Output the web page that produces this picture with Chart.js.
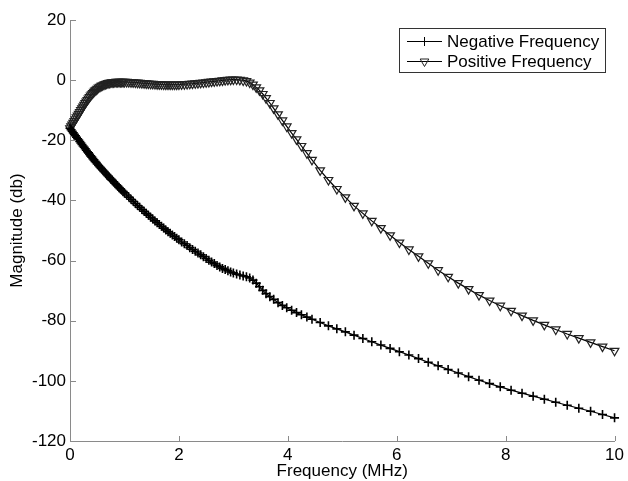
<!DOCTYPE html>
<html>
<head>
<meta charset="utf-8">
<script src="https://cdn.jsdelivr.net/npm/chart.js@4.4.0/dist/chart.umd.min.js"></script>
<style>
html, body { margin: 0; padding: 0; background: #fff; }
#wrap { width: 628px; height: 481px; }
</style>
</head>
<body>
<div id="wrap"><canvas id="magChart"></canvas></div>
<script>
// frequency samples (MHz), shared by both curves - dense at the low end
const freq = [0,0.02,0.04,0.06,0.08,0.1,0.12,0.14,0.16,0.18,
  0.2,0.22,0.24,0.26,0.28,0.3,0.32,0.34,0.36,0.38,
  0.4,0.42,0.44,0.46,0.48,0.5,
  0.525,0.55,0.575,0.6,0.625,0.65,0.675,0.7,0.725,0.75,
  0.775,0.8,0.825,0.85,0.875,0.9,0.925,0.95,0.975,1.0,
  1.04,1.08,1.12,1.16,1.2,1.24,1.28,1.32,1.36,1.4,
  1.44,1.48,1.52,1.56,1.6,1.64,1.68,1.72,1.76,1.8,
  1.84,1.88,1.92,1.96,2.0,
  2.05,2.1,2.15,2.2,2.25,2.3,2.35,2.4,2.45,2.5,
  2.55,2.6,2.65,2.7,2.75,2.8,2.85,2.9,2.95,3.0,
  3.06,3.12,3.18,3.24,3.3,3.36,3.42,3.48,3.54,3.6,
  3.67,3.74,3.82,3.9,3.98,4.07,4.16,4.25,4.35,4.444,
  4.594,4.746,4.9,5.057,5.216,5.378,5.542,5.709,5.878,6.049,
  6.223,6.4,6.579,6.76,6.944,7.131,7.32,7.511,7.705,7.901,
  8.1,8.301,8.505,8.711,8.92,9.131,9.344,9.56,9.779,10];

const negMag = [-16,-16.5,-17,-17.5,-18,-18.5,-19,-19.5,-19.9,-20.4,
  -20.9,-21.4,-21.9,-22.3,-22.8,-23.3,-23.8,-24.2,-24.7,-25.2,
  -25.6,-26.1,-26.5,-27,-27.4,-27.9,
  -28.4,-28.9,-29.4,-29.9,-30.4,-30.9,-31.4,-31.9,-32.4,-32.9,
  -33.3,-33.8,-34.3,-34.8,-35.2,-35.7,-36.1,-36.6,-37.1,-37.5,
  -38.2,-38.9,-39.6,-40.3,-41,-41.7,-42.3,-43,-43.6,-44.3,
  -44.9,-45.6,-46.2,-46.8,-47.4,-48,-48.6,-49.2,-49.8,-50.4,
  -50.9,-51.5,-52,-52.6,-53.1,
  -53.8,-54.4,-55,-55.7,-56.3,-56.9,-57.5,-58.1,-58.7,-59.3,
  -59.9,-60.5,-61,-61.6,-62.1,-62.6,-63,-63.4,-63.8,-64.1,
  -64.5,-64.8,-65.1,-65.4,-65.8,-66.5,-67.5,-68.7,-69.9,-71,
  -72,-72.9,-74,-74.9,-75.7,-76.5,-77.3,-78,-78.8,-79.5,
  -80.6,-81.7,-82.7,-83.7,-84.8,-85.9,-87,-88.1,-89.2,-90.3,
  -91.4,-92.6,-93.8,-95,-96.2,-97.4,-98.6,-99.8,-100.9,-102,
  -103.1,-104.1,-105.1,-106.1,-107.1,-108.1,-109.1,-110.1,-111.2,-112.3];

const posMag = [-16,-15.4,-14.8,-14.2,-13.6,-13,-12.4,-11.8,-11.2,-10.6,
  -10,-9.4,-8.8,-8.2,-7.6,-7.1,-6.6,-6.1,-5.6,-5.1,
  -4.7,-4.3,-3.9,-3.5,-3.2,-2.9,
  -2.5,-2.2,-1.9,-1.7,-1.5,-1.3,-1.15,-1,-0.9,-0.8,
  -0.75,-0.7,-0.65,-0.6,-0.6,-0.6,-0.6,-0.6,-0.6,-0.6,
  -0.6,-0.65,-0.7,-0.75,-0.8,-0.85,-0.9,-1,-1.05,-1.1,
  -1.15,-1.2,-1.25,-1.3,-1.35,-1.4,-1.4,-1.45,-1.5,-1.5,
  -1.5,-1.5,-1.5,-1.5,-1.45,
  -1.4,-1.35,-1.3,-1.2,-1.15,-1.05,-1,-0.9,-0.8,-0.7,
  -0.6,-0.5,-0.4,-0.3,-0.2,-0.1,0,0.1,0.15,0.2,
  0.2,0.1,-0.1,-0.3,-0.8,-1.5,-2.4,-3.4,-4.6,-6,
  -7.6,-9.4,-11.4,-13.4,-15.4,-17.6,-19.7,-21.9,-24.3,-26.5,
  -30,-33.2,-36.2,-39,-41.8,-44.3,-46.8,-49.2,-51.6,-54,
  -56.3,-58.6,-60.9,-63.2,-65.4,-67.5,-69.5,-71.5,-73.3,-75,
  -76.7,-78.3,-79.9,-81.4,-82.9,-84.4,-85.8,-87.2,-88.6,-90];

const seriesNames = ['Negative Frequency', 'Positive Frequency'];
const xTicks = [0, 2, 4, 6, 8, 10];
const yTicks = [20, 0, -20, -40, -60, -80, -100, -120];

const FONT = "'Liberation Sans', Arial, Helvetica, sans-serif";
const AXIS_GRAY = '#8a8a8a';

function toPoints(ys) {
  return freq.map((f, i) => ({ x: f, y: ys[i] }));
}

// matlab style ticks pointing into the plot
const innerTicks = {
  id: 'innerTicks',
  afterDraw(chart) {
    const ctx = chart.ctx;
    const xs = chart.scales.x, ys = chart.scales.y;
    const area = chart.chartArea;
    ctx.save();
    ctx.strokeStyle = AXIS_GRAY;
    ctx.lineWidth = 1;
    ctx.beginPath();
    xs.ticks.forEach((t, i) => {
      const px = Math.round(xs.getPixelForTick(i)) + 0.5;
      ctx.moveTo(px, area.bottom);
      ctx.lineTo(px, area.bottom - 5);
    });
    ys.ticks.forEach((t, i) => {
      const py = Math.round(ys.getPixelForTick(i)) + 0.5;
      ctx.moveTo(area.left, py);
      ctx.lineTo(area.left + 6, py);
    });
    ctx.stroke();
    ctx.restore();
  }
};

// boxed legend in the upper right corner
const boxLegend = {
  id: 'boxLegend',
  afterDraw(chart) {
    const ctx = chart.ctx;
    const left = 399, top = 28, w = 206, h = 44;
    ctx.save();
    ctx.fillStyle = '#fff';
    ctx.fillRect(left, top, w, h);
    ctx.strokeStyle = '#333';
    ctx.lineWidth = 1;
    ctx.strokeRect(left + 0.5, top + 0.5, w, h);
    chart.data.datasets.forEach((ds, i) => {
      const y = top + 13.5 + i * 20;
      ctx.strokeStyle = ds.borderColor;
      ctx.lineWidth = 1;
      ctx.beginPath();
      ctx.moveTo(407, y);
      ctx.lineTo(442, y);
      ctx.stroke();
      ctx.strokeStyle = ds.pointBorderColor;
      ctx.fillStyle = ds.pointBackgroundColor;
      Chart.helpers.drawPoint(ctx, {
        pointStyle: ds.pointStyle,
        rotation: ds.pointRotation || 0,
        radius: ds.pointRadius,
        borderWidth: 1
      }, 424.5, y);
      ctx.fillStyle = '#000';
      ctx.font = '17px ' + FONT;
      ctx.textBaseline = 'middle';
      ctx.textAlign = 'left';
      ctx.fillText(ds.label, 447, y + 1);
    });
    ctx.restore();
  }
};

const config = {
  type: 'scatter',
  data: {
    datasets: [{
      label: seriesNames[0],
      data: toPoints(negMag),
      showLine: true,
      borderColor: '#000',
      borderWidth: 1.2,
      pointStyle: 'cross',
      pointRadius: 4.5,
      pointBorderColor: '#000',
      pointBackgroundColor: '#000',
      pointBorderWidth: 1.6,
      clip: false
    }, {
      label: seriesNames[1],
      data: toPoints(posMag),
      showLine: true,
      borderColor: '#000',
      borderWidth: 1.2,
      pointStyle: 'triangle',
      pointRotation: 180,
      pointRadius: 5,
      pointBorderColor: '#222',
      pointBackgroundColor: 'rgba(0,0,0,0)',
      pointBorderWidth: 1.2,
      clip: false
    }]
  },
  options: {
    responsive: true,
    maintainAspectRatio: false,
    animation: false,
    devicePixelRatio: 1,
    layout: {
      padding: { left: 0, top: 20, right: 11, bottom: 0 }
    },
    plugins: {
      legend: { display: false },
      tooltip: { enabled: false }
    },
    scales: {
      x: {
        type: 'linear',
        min: 0,
        max: 10,
        afterBuildTicks: s => { s.ticks = xTicks.map(v => ({ value: v })); },
        afterFit: s => { s.height = 40; },
        grid: { display: true, drawOnChartArea: false, drawTicks: false },
        border: { display: true, color: AXIS_GRAY, width: 1 },
        ticks: { color: '#000', padding: 4, maxRotation: 0, font: { family: FONT, size: 17 } },
        title: {
          display: true,
          text: 'Frequency (MHz)',
          color: '#000',
          padding: { top: 0, bottom: 0 },
          font: { family: FONT, size: 17, lineHeight: 1.1 }
        }
      },
      y: {
        type: 'linear',
        min: -120,
        max: 20,
        afterBuildTicks: s => { s.ticks = yTicks.map(v => ({ value: v })); },
        afterFit: s => { s.width = 70; },
        grid: { display: true, drawOnChartArea: false, drawTicks: false },
        border: { display: true, color: AXIS_GRAY, width: 1 },
        ticks: { color: '#000', padding: 4, font: { family: FONT, size: 17 } },
        title: {
          display: true,
          text: 'Magnitude (db)',
          color: '#000',
          padding: { top: 7, bottom: 0 },
          font: { family: FONT, size: 17 }
        }
      }
    }
  },
  plugins: [innerTicks, boxLegend]
};

const magChart = new Chart(document.getElementById('magChart'), config);
</script>
</body>
</html>
